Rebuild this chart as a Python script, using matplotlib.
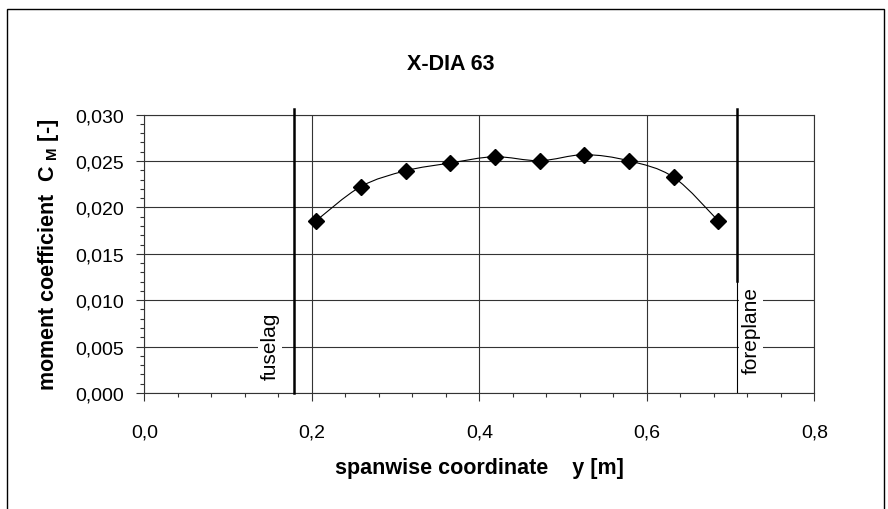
import numpy as np
import matplotlib
matplotlib.use("Agg")
import matplotlib.pyplot as plt
from matplotlib.path import Path
from matplotlib.patches import PathPatch, Rectangle

plt.rcParams['font.family'] = ['Liberation Sans', 'DejaVu Sans']
plt.rcParams['mathtext.fontset'] = 'custom'
plt.rcParams['mathtext.rm'] = 'Liberation Sans'
plt.rcParams['mathtext.bf'] = 'Liberation Sans:bold'

# data
span_y = [0.205, 0.258, 0.312, 0.365, 0.418, 0.472, 0.525, 0.578, 0.632, 0.685]
cm = [0.01857, 0.02223, 0.02395, 0.02478, 0.02546, 0.02503, 0.02568, 0.02503, 0.02324, 0.01857]
fuselage_y = 0.178
foreplane_y = 0.7075
foreplane_break = 0.0121
x_ticks = [0.0, 0.2, 0.4, 0.6, 0.8]
y_ticks = [0.000, 0.005, 0.010, 0.015, 0.020, 0.025, 0.030]

fig = plt.figure(figsize=(8.88, 5.10), dpi=100)
ax = fig.add_axes([0.1627, 0.2275, 0.7545, 0.5458])

# outer frame (cut off at the bottom like the source)
fig.patches.append(Rectangle((7 / 888, -0.05), 877 / 888, 1.05 - 10 / 510,
                             transform=fig.transFigure, fill=False,
                             edgecolor='black', linewidth=1.0))

ax.set_xlim(0, 0.8)
ax.set_ylim(0, 0.030)
ax.set_xticks(x_ticks)
ax.set_yticks(y_ticks)
ax.set_xticks(np.arange(0, 0.8001, 0.04), minor=True)
ax.set_yticks(np.arange(0, 0.03001, 0.001), minor=True)
ax.set_xticklabels([f"{v:.1f}".replace('.', ',') for v in x_ticks])
ax.set_yticklabels([f"{v:.3f}".replace('.', ',') for v in y_ticks])
ax.tick_params(which='major', direction='out', length=6, width=0.8, labelsize=14, color='#333333')
ax.tick_params(axis='x', which='major', pad=16)
ax.tick_params(axis='y', which='major', pad=9)
ax.tick_params(which='minor', direction='out', length=3, width=0.8, color='#333333')

ax.grid(True, which='major', color='#333333', linewidth=0.8)
ax.set_axisbelow(True)
for s in ax.spines.values():
    s.set_color('#333333')
    s.set_linewidth(0.8)

# smoothed connecting line (Catmull-Rom -> cubic bezier)
pts = np.column_stack([span_y, cm])
verts = [pts[0]]
codes = [Path.MOVETO]
for i in range(len(pts) - 1):
    p0 = pts[i - 1] if i > 0 else pts[i]
    p1, p2 = pts[i], pts[i + 1]
    p3 = pts[i + 2] if i + 2 < len(pts) else pts[i + 1]
    verts += [p1 + (p2 - p0) / 6, p2 - (p3 - p1) / 6, p2]
    codes += [Path.CURVE4] * 3
ax.add_patch(PathPatch(Path(verts, codes), facecolor='none', edgecolor='black', linewidth=0.8, zorder=3))
ax.plot(span_y, cm, linestyle='none', marker='D', markersize=8.5, color='black', zorder=4)

# fuselage / foreplane markers
ax.plot([fuselage_y, fuselage_y], [0, 0.0306], color='black', linewidth=1.8, clip_on=False, zorder=3)
ax.plot([foreplane_y, foreplane_y], [foreplane_break, 0.0306], color='black', linewidth=1.8, clip_on=False, zorder=3)
ax.plot([foreplane_y, foreplane_y], [0, foreplane_break], color='black', linewidth=0.8, zorder=3)

ax.text(0.1499, 0.00517, "fuselag", rotation=90, ha='center', va='center', fontsize=15,
        bbox=dict(facecolor='white', edgecolor='none', pad=2), zorder=5)
ax.text(0.7245, 0.0068, "foreplane", rotation=90, ha='center', va='center', fontsize=15,
        bbox=dict(facecolor='white', edgecolor='none', pad=2), zorder=5)

fig.text(451 / 888, 1 - 65 / 510, "X-DIA 63", ha='center', va='center', fontsize=15.5, fontweight='bold')
ax.set_xlabel("spanwise coordinate    y [m]", fontsize=15.5, fontweight='bold', labelpad=12)
ax.set_ylabel(r"moment coefficient  C $_{\mathbf{M}}$ [-]", fontsize=15.5, fontweight='bold', labelpad=10)

fig.savefig("out.png", dpi=100)
